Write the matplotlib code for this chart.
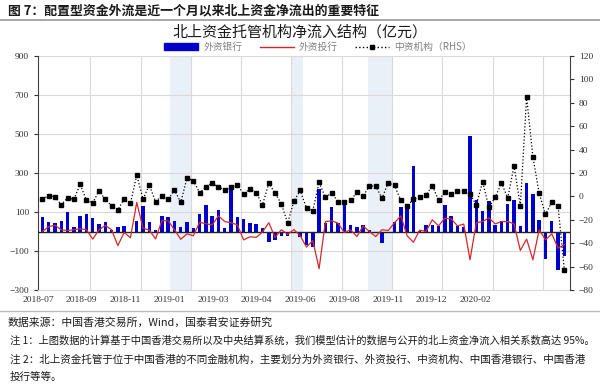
import numpy as np
import matplotlib
matplotlib.use("Agg")
import matplotlib.pyplot as plt
from matplotlib.lines import Line2D
from matplotlib.patches import Patch

plt.rcParams["font.family"] = ["Noto Sans CJK SC", "DejaVu Sans"]

# weekly net inflow, 亿元 (left axis)
foreign_bank = [
    72, 49, 42, 54, 100, 23, 77, 90, 67, 40, 47, 9, 23, 30, -5, 52, 132, 50, 6, 81,
    72, 55, 23, 47, 16, 91, 134, 79, 108, 20, 233, 73, 64, 44, 36, 16, -55, -42, -25, -21,
    -4, -27, -70, -80, 218, 45, 125, 45, 152, 35, 22, 32, 8, -3, -60, -2, 50, 126,
    120, 334, 2, 32, 35, 27, 137, 77, 30, 24, 490, 163, 107, 154, 34, 55, 141, 161,
    26, 249, 194, 60, -140, 52, -196, -124,
]
foreign_ib = [
    0, 25, 32, 9, 5, 9, 14, 9, -39, 9, 31, 9, -72, -5, -32, 149, 17, 7, -38, 56,
    55, 9, -40, -12, -22, 47, 40, 34, 80, 51, 45, 34, -43, -27, -30, -3, 45, -30, 9, -15,
    10, -22, -80, -46, -191, 51, 55, 43, -5, 9, -26, 28, 0, -26, 9, 5, 45, 80,
    -22, -55, 7, 0, 60, 29, 68, 65, 29, 38, -145, 45, 51, 70, 39, 51, 51, 39,
    -97, -39, -145, 9, -43, -12, -85, -68,
]
# right axis
chinese_inst = [
    -2.3, 0.5, -0.3, -7.2, -1.2, -2.6, 10.2, -3.2, -5.7, 4.8, -2.6, -8.0, -11.7, -2.0,
    -6.0, 18.2, -2.3, 9.7, -4.6, 0.5, -2.6, 5.4, -5.1, 15.9, 13.3, 3.1,
    8.2, 11.1, 8.2, 5.6, 7.7, 9.9, 2.0, 6.5, 3.1, -7.2, 11.1, 2.8, -6.3, -22.8,
    -4.0, 5.1, -10.3, -12.3, 12.2, -0.9, 3.1, -4.6, -4.6, -3.4, 3.4, 0.3, 8.8, 8.8,
    -1.5, 11.6, 9.4, -3.5,
    -8.0, -2.6, -0.3, 1.1, 9.1, -3.2, 3.4, 2.0, 4.5, 4.8, 2.0, -7.4, 12.5, -9.4,
    -0.9, 11.6, -1.5, 26.2, -8.0, 85.1, 33.8, 2.6, -15.4, -4.9, -8.3, -63.0,
]
date_labels = [
    "2018-07", "2018-09", "2018-11", "2019-01", "2019-03", "2019-04",
    "2019-06", "2019-08", "2019-11", "2019-12", "2020-02",
]
# shaded periods (in week index)
shade_spans = [(20.3, 23.6), (39.6, 41.4), (51.7, 55.6)]

BLUE = "#0000cc"
RED = "#d62728"
GRID = "#d9d9d9"
DARK = "#404040"
SERIF = ["Liberation Serif", "DejaVu Serif"]


def main():
    x = np.arange(len(foreign_bank))
    fig = plt.figure(figsize=(6, 3.84), dpi=100)
    ax = fig.add_axes([38 / 600, 1 - 290 / 384, 532 / 600, 234 / 384])

    for a, b in shade_spans:
        ax.axvspan(a, b, color="#eaf0f8", zorder=0, lw=0)

    ax.bar(x, foreign_bank, width=0.55, color=BLUE, zorder=3)
    ax.plot(x, foreign_ib, color=RED, lw=0.9, zorder=4)
    ax.axhline(0, color="#222222", lw=1.0, zorder=3.5)

    ax.set_xlim(-0.36, 83.9)
    ax.set_ylim(-300, 900)
    ax.set_yticks(np.arange(-300, 901, 200))
    ax.set_xticks(-0.7 + 6.95 * np.arange(len(date_labels)))
    ax.set_xticklabels(date_labels)
    ax.set_xticks(7.6 + 8 * np.arange(10), minor=True)
    ax.grid(axis="y", color=GRID, lw=0.8, zorder=1)
    ax.grid(axis="x", which="minor", color=GRID, lw=0.8, zorder=1)
    ax.set_axisbelow(True)
    ax.tick_params(axis="x", which="both", length=0, labelsize=6.8, colors="#333333", pad=4)
    ax.tick_params(axis="y", length=3, direction="out", labelsize=6.8,
                   colors="#333333", width=0.8)
    for lab in ax.get_xticklabels() + ax.get_yticklabels():
        lab.set_family(SERIF)
    ax.spines["top"].set_visible(False)
    ax.spines["bottom"].set_color(GRID)
    ax.spines["left"].set_color(DARK)
    ax.spines["right"].set_visible(False)

    ax2 = ax.twinx()
    ax2.plot(x, chinese_inst, color="black", lw=0.9, ls=":", marker="s",
             ms=3.2, zorder=5)
    ax2.set_ylim(-80, 120)
    ax2.set_yticks(np.arange(-80, 121, 20))
    ax2.tick_params(axis="y", length=3, direction="out", labelsize=6.8,
                    colors="#333333", width=0.8)
    for lab in ax2.get_yticklabels():
        lab.set_family(SERIF)
    for s in ["top", "left", "bottom"]:
        ax2.spines[s].set_visible(False)
    ax2.spines["right"].set_color(DARK)

    handles = [
        Patch(color=BLUE),
        Line2D([], [], color=RED, lw=1.0),
        Line2D([], [], color="black", lw=1.0, ls=":", marker="s", ms=3.2),
    ]
    leg = fig.legend(handles, ["外资银行", "外资投行", "中资机构（RHS）"],
                     loc="center", bbox_to_anchor=(0.53, 1 - 47 / 384), ncol=3,
                     frameon=False, fontsize=7, handlelength=3.5,
                     handleheight=0.6, columnspacing=1.8, handletextpad=0.5)
    for t in leg.get_texts():
        t.set_color("#808080")

    fig.text(8 / 600, 1 - 10 / 384, "图 7：配置型资金外流是近一个月以来北上资金净流出的重要特征",
             fontsize=9.3, fontweight="bold", va="center", color="#1a1a1a")
    fig.add_artist(Line2D([0, 1], [1 - 20 / 384] * 2, color="#999999", lw=1.2))
    fig.text(0.5, 1 - 32 / 384, "北上资金托管机构净流入结构（亿元）",
             fontsize=10.8, ha="center", va="center", color="#1a1a1a")

    fig.add_artist(Line2D([0, 1], [1 - 311 / 384] * 2, color="#bbbbbb", lw=1.0))
    fig.text(8 / 600, 1 - 323 / 384, "数据来源：中国香港交易所，Wind，国泰君安证券研究",
             fontsize=7.8, va="center", color="#1a1a1a")
    fig.text(10 / 600, 1 - 341 / 384,
             "注 1：上图数据的计算基于中国香港交易所以及中央结算系统，我们模型估计的数据与公开的北上资金净流入相关系数高达 95%。",
             fontsize=7.4, va="center", color="#1a1a1a")
    fig.text(10 / 600, 1 - 360 / 384,
             "注 2：北上资金托管于位于中国香港的不同金融机构，主要划分为外资银行、外资投行、中资机构、中国香港银行、中国香港",
             fontsize=7.6, va="center", color="#1a1a1a")
    fig.text(10 / 600, 1 - 377 / 384, "投行等等。",
             fontsize=7.6, va="center", color="#1a1a1a")

    fig.savefig("out.png", dpi=100)
    plt.close(fig)


if __name__ == "__main__":
    main()
